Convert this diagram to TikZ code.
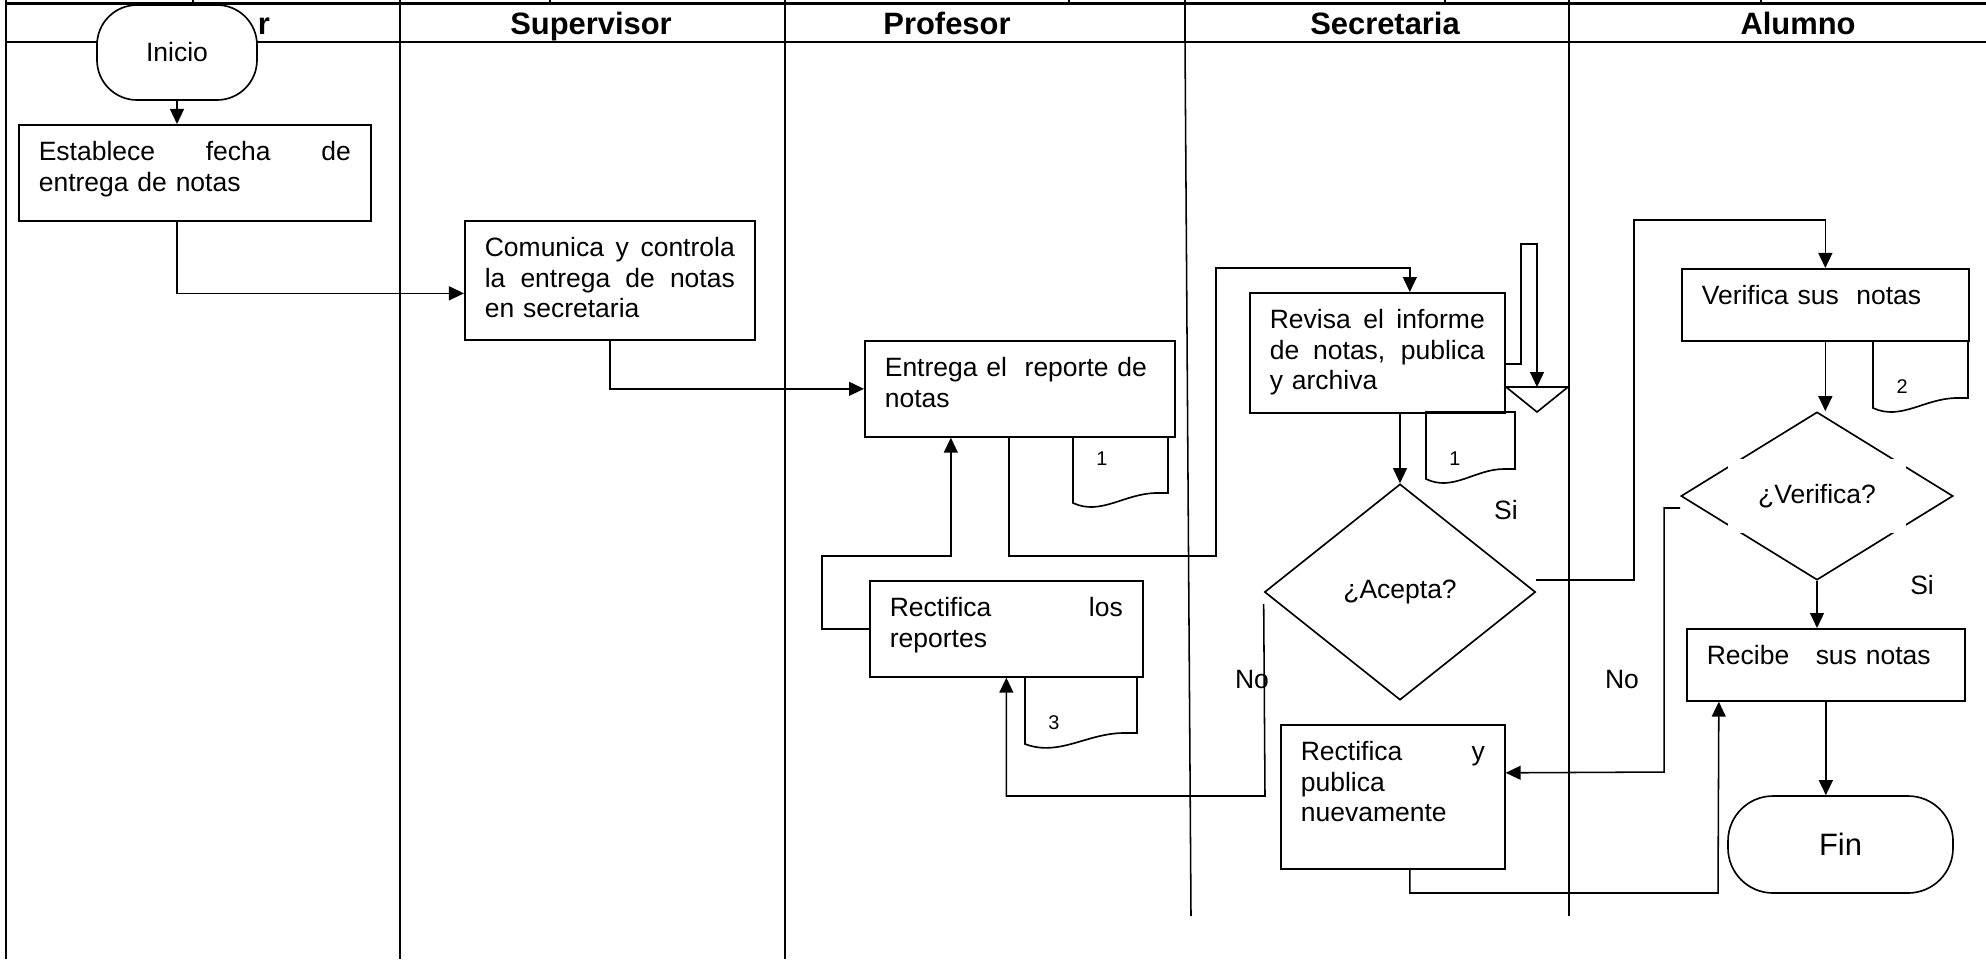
\documentclass[tikz,border=0pt]{standalone}
\usepackage{fontspec}
\setmainfont{Liberation Sans}
\usetikzlibrary{arrows.meta,shapes.geometric,positioning}
\newlength\pxu
\setlength\pxu{0.453pt}
\newcommand\jl[1]{\makebox[\hsize][s]{\spaceskip=0pt\relax #1}}
\tikzset{
    proc/.style={
                draw,
                line width=0.75pt,
                anchor=north west,
                align=left,
                inner xsep=20\pxu,
                inner ysep=0pt,
                text height=36\pxu
            },
        term/.style={
                draw,
                line width=0.75pt,
                fill=white,
                rounded corners=40\pxu,
                inner sep=0pt
            },
        decision/.style={
                diamond,
                draw,
                line width=0.75pt,
                inner sep=0pt
            },
        lane/.style={line width=1pt},
        plain/.style={line width=0.7pt},
        conn/.style={line width=0.7pt, -{Triangle[length=6.8pt,width=6.3pt]}},
        lanehead/.style={font=\bfseries\fontsize{14}{16}\selectfont, anchor=base},
        docnum/.style={font=\fontsize{9}{11}\selectfont},
}

\begin{document}
\begin{tikzpicture}[x=\pxu, y=-\pxu, font=\fontsize{12}{13.8}\selectfont]
  \useasboundingbox (0,0) rectangle (1986,959);
  % Lanes
  \draw[lane] (6,3.5) -- (1986,3.5);
  \draw[lane] (6,42) -- (1986,42);
  \draw[lane] (6,0) -- (6,959);
  \draw[lane] (400,0) -- (400,959);
  \draw[lane] (785,0) -- (785,959);
  \draw[lane] (1185,0) -- (1185,42);
  \draw[lane] (1569,0) -- (1569,42);
  \draw[plain] (1185,42) -- (1191,916);
  \draw[plain] (1569,42) -- (1569,916);
  \draw[lane] (193,0) -- (193,3.5);
  \draw[lane] (550,0) -- (550,3.5);
  \draw[lane] (1069,0) -- (1069,3.5);
  \draw[lane] (1445,0) -- (1445,3.5);
  \draw[lane] (1761,0) -- (1761,3.5);
  \node[lanehead, anchor=base west] (hd1) at (250,34) {r};
  \node[lanehead] (hd2) at (591,34) {Supervisor};
  \node[lanehead] (hd3) at (947,34) {Profesor};
  \node[lanehead] (hd4) at (1385,34) {Secretaria};
  \node[lanehead] (hd5) at (1798,34) {Alumno};
  % Steps
  \node[term, minimum width=160\pxu, minimum height=95\pxu] (ini) at (177,52.5) {Inicio};
  \node[proc, text width=312\pxu, text depth=60\pxu] (est) at (18,124)
      {\jl{Establece fecha de}\\entrega de notas};
  \node[proc, text width=250\pxu, text depth=83\pxu] (com) at (464,220)
      {\jl{Comunica y controla}\\\jl{la entrega de notas}\\en secretaria};
  \node[proc, text width=270\pxu, text depth=60\pxu] (ent) at (864,340)
      {Entrega el\ \ reporte de\\notas};
  \node[proc, text width=233\pxu, text depth=60\pxu] (rl) at (869,580)
      {\jl{Rectifica los}\\reportes};
  \node[proc, text width=215\pxu, text depth=84\pxu] (rev) at (1249,292)
      {\jl{Revisa el informe}\\\jl{de notas, publica}\\y archiva};
  \node[proc, text width=184\pxu, text depth=108\pxu] (ry) at (1280,724)
      {\jl{Rectifica y}\\publica\\nuevamente};
  \node[proc, text width=247\pxu, text depth=36\pxu] (vb) at (1681,268) {Verifica sus\ \ notas};
  \node[proc, text width=238\pxu, text depth=36\pxu] (rec) at (1686,628) {Recibe\ \ \ sus notas};
  \node[term, rounded corners=45\pxu, minimum width=225\pxu, minimum height=97\pxu,
      font=\fontsize{14}{16}\selectfont] (fin) at (1840.5,844.5) {Fin};
  % Decisions
  \node[decision, minimum width=271\pxu, minimum height=216\pxu] (acp) at (1400,592) {¿Acepta?};
  \node[decision, minimum width=272\pxu, minimum height=168\pxu] (vdia) at (1817,496) {};
  \node[fill=white, minimum width=178\pxu, minimum height=74\pxu, inner sep=0pt] (vq) at (1817,496) {¿Verifica?};
  % Documents and archive
  \draw[line width=0.75pt] (1073,436) -- (1073,503) .. controls (1101,516) and (1125,493) .. (1157,493) -- (1168,493) -- (1168,436);
  \draw[line width=0.75pt] (1426,412) -- (1426,479) .. controls (1453,492) and (1475,469) .. (1504,469) -- (1515,469) -- (1515,412) -- cycle;
  \draw[line width=0.75pt] (1873,340) -- (1873,408) .. controls (1901,421) and (1925,398) .. (1957,398) -- (1968,398) -- (1968,340);
  \draw[line width=0.75pt] (1025,676) -- (1025,744) .. controls (1059,757) and (1087,733) .. (1124,733) -- (1137,733) -- (1137,676);
  \node[docnum] (d1) at (1102,459) {1};
  \node[docnum] (d2) at (1455,459) {1};
  \node[docnum] (d3) at (1902,387) {2};
  \node[docnum] (d4) at (1054,723) {3};
  \draw[line width=0.75pt] (1506,387) -- (1568,387) -- (1537,412) -- cycle;
  \coordinate (arch) at (1537,387);
  % Connectors
  \draw[conn] (ini.south) -- (ini.south |- est.north);
  \draw[conn] (ini.south |- est.south) |- ([yshift=-13\pxu]com.west);
  \draw[conn] (com.south) |- (ent.west);
  \draw[conn] ([xshift=-11\pxu]ent.south) |- (1216,556) -- (1216,268) -| ([xshift=32.5\pxu]rev.north);
  \draw[conn] (rl.west) -| (822,556) -| ([xshift=-69\pxu]ent.south);
  \draw[conn] (acp.north |- rev.south) -- (acp.north);
  \draw[conn] ([yshift=-11\pxu]rev.east) -| (1521,244) -| (arch);
  \draw[conn] ([yshift=12\pxu]acp.east) -| (1634,220) -| (vb.north);
  \draw[conn] (vb.south) -- (vb.south |- vdia.north);
  \draw[conn] (vdia.south) -- (vdia.south |- rec.north);
  \draw[conn] (rec.south) -- (rec.south |- fin.north);
  \draw[conn] ([yshift=-12\pxu]vdia.west) -| (1664,772) -- ([yshift=24\pxu]ry.east);
  \draw[conn] ([yshift=-12\pxu]acp.west) -- (1265,796) -| (rl.south);
  \draw[conn] ([xshift=17\pxu]ry.south) |- (1718,893) -- ([xshift=-107\pxu]rec.south);
  % Labels
  \node (si1) at (1506,510) {Si};
  \node (si2) at (1922,585) {Si};
  \node (no1) at (1252,680) {No};
  \node (no2) at (1622,679) {No};
\end{tikzpicture}
\end{document}
